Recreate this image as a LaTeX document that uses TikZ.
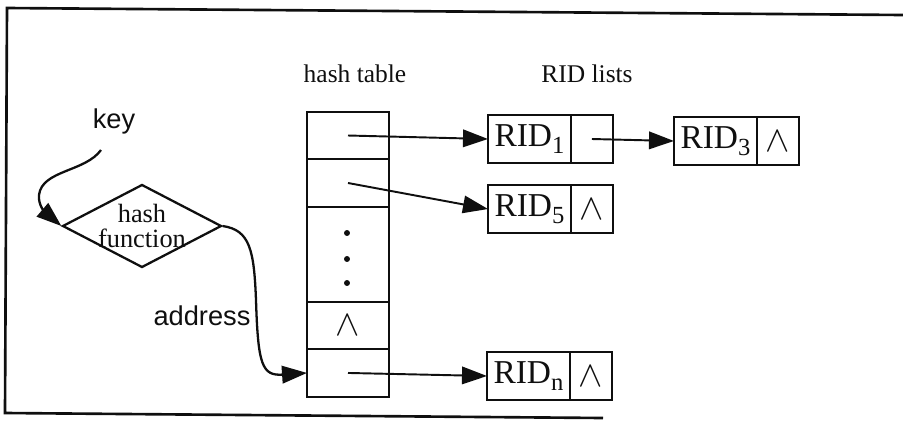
\documentclass[tikz,border=0pt]{standalone}
\usepackage{fontspec}
\setmainfont{Liberation Serif}
\newfontfamily\LabelSans{Liberation Sans}
\usepackage{xcolor}
\usepackage{tikz}
\usetikzlibrary{arrows.meta,positioning,shapes.geometric}
\definecolor{ScanInk}{gray}{0.06}
\newcommand{\RIDname}[1]{RID\raisebox{-0.45ex}{\fontsize{14}{14}\selectfont #1}}
\newcommand{\NilMark}{{\fontsize{20.74}{20}\selectfont$\wedge$}}

\begin{document}
\begin{tikzpicture}[
  x=0.02cm,y=-0.02cm,
  color=ScanInk,
  >={Triangle[length=5mm,width=3.5mm]},
  slot/.style={draw=ScanInk,line width=1.3pt,minimum width=1.64cm,minimum height=0.95cm,
               inner sep=0pt,outer sep=0pt},
  ridcell/.style={slot,minimum width=1.66cm,font=\fontsize{19}{19}\selectfont},
  nextcell/.style={slot,minimum width=0.84cm},
  ptr/.style={->,line width=1.1pt},
  flow/.style={->,line width=1.3pt},
  caption/.style={font=\fontsize{14.5}{14.5}\selectfont,anchor=base},
  sidelabel/.style={font=\LabelSans\fontsize{15.5}{15.5}\selectfont,anchor=base},
]
  \useasboundingbox (0,0) rectangle (903,420);
  \draw[line width=1.5pt] (603,418) -- (5,413) -- (7,8) -- (903,15);

  \node[caption] (tablehead) at (355,82) {hash table};
  \node[caption] (listhead) at (587,82) {RID lists};

  % hash table column
  \node[slot] (row1) at (348,135.5) {};
  \node[slot,below=0pt of row1] (row2) {};
  \node[slot,below=0pt of row2,minimum height=1.9cm] (dots) {};
  \node[slot,below=0pt of dots] (nilrow) {\NilMark};
  \node[slot,below=0pt of nilrow] (lastrow) {};
  \foreach \y in {233,259,283}
    \fill (347,\y) circle[radius=1.7pt];

  % RID lists
  \node[ridcell,anchor=west] (rid1) at (488,139) {\RIDname{1}};
  \node[nextcell,right=0pt of rid1] (rid1next) {};
  \node[ridcell,anchor=west] (rid3) at (674,141) {\RIDname{3}};
  \node[nextcell,right=0pt of rid3] (rid3next) {\NilMark};
  \node[ridcell,anchor=west] (rid5) at (488,209) {\RIDname{5}};
  \node[nextcell,right=0pt of rid5] (rid5next) {\NilMark};
  \node[ridcell,anchor=west] (ridn) at (487,376) {\RIDname{n}};
  \node[nextcell,right=0pt of ridn] (ridnnext) {\NilMark};

  \draw[ptr] (row1.center) -- (rid1.west);
  \draw[ptr] (row2.center) -- (rid5.west);
  \draw[ptr] (rid1next.center) -- (rid3.west);
  \draw[ptr] (lastrow.center) -- (ridn.west);

  % hashing
  \node[diamond,draw,line width=1.3pt,aspect=1.9,inner sep=-5pt,minimum width=3.18cm,
        minimum height=1.66cm,align=center,font=\fontsize{15}{14}\selectfont]
    (hashfn) at (142,226) {hash\\function};
  \node[sidelabel] (keylabel) at (114,128) {key};
  \coordinate (keytail) at (101,150);
  \draw[flow] (keytail) .. controls (85,172) and (42,170) .. (39,195)
    .. controls (38,205) and (45,212) .. (hashfn.west);
  \node[sidelabel] (addrlabel) at (202,325) {address};
  \draw[flow] (hashfn.east) .. controls (250,230) and (254,250) .. (256,300)
    .. controls (258,365) and (262,376) .. (lastrow.west);
\end{tikzpicture}
\end{document}
